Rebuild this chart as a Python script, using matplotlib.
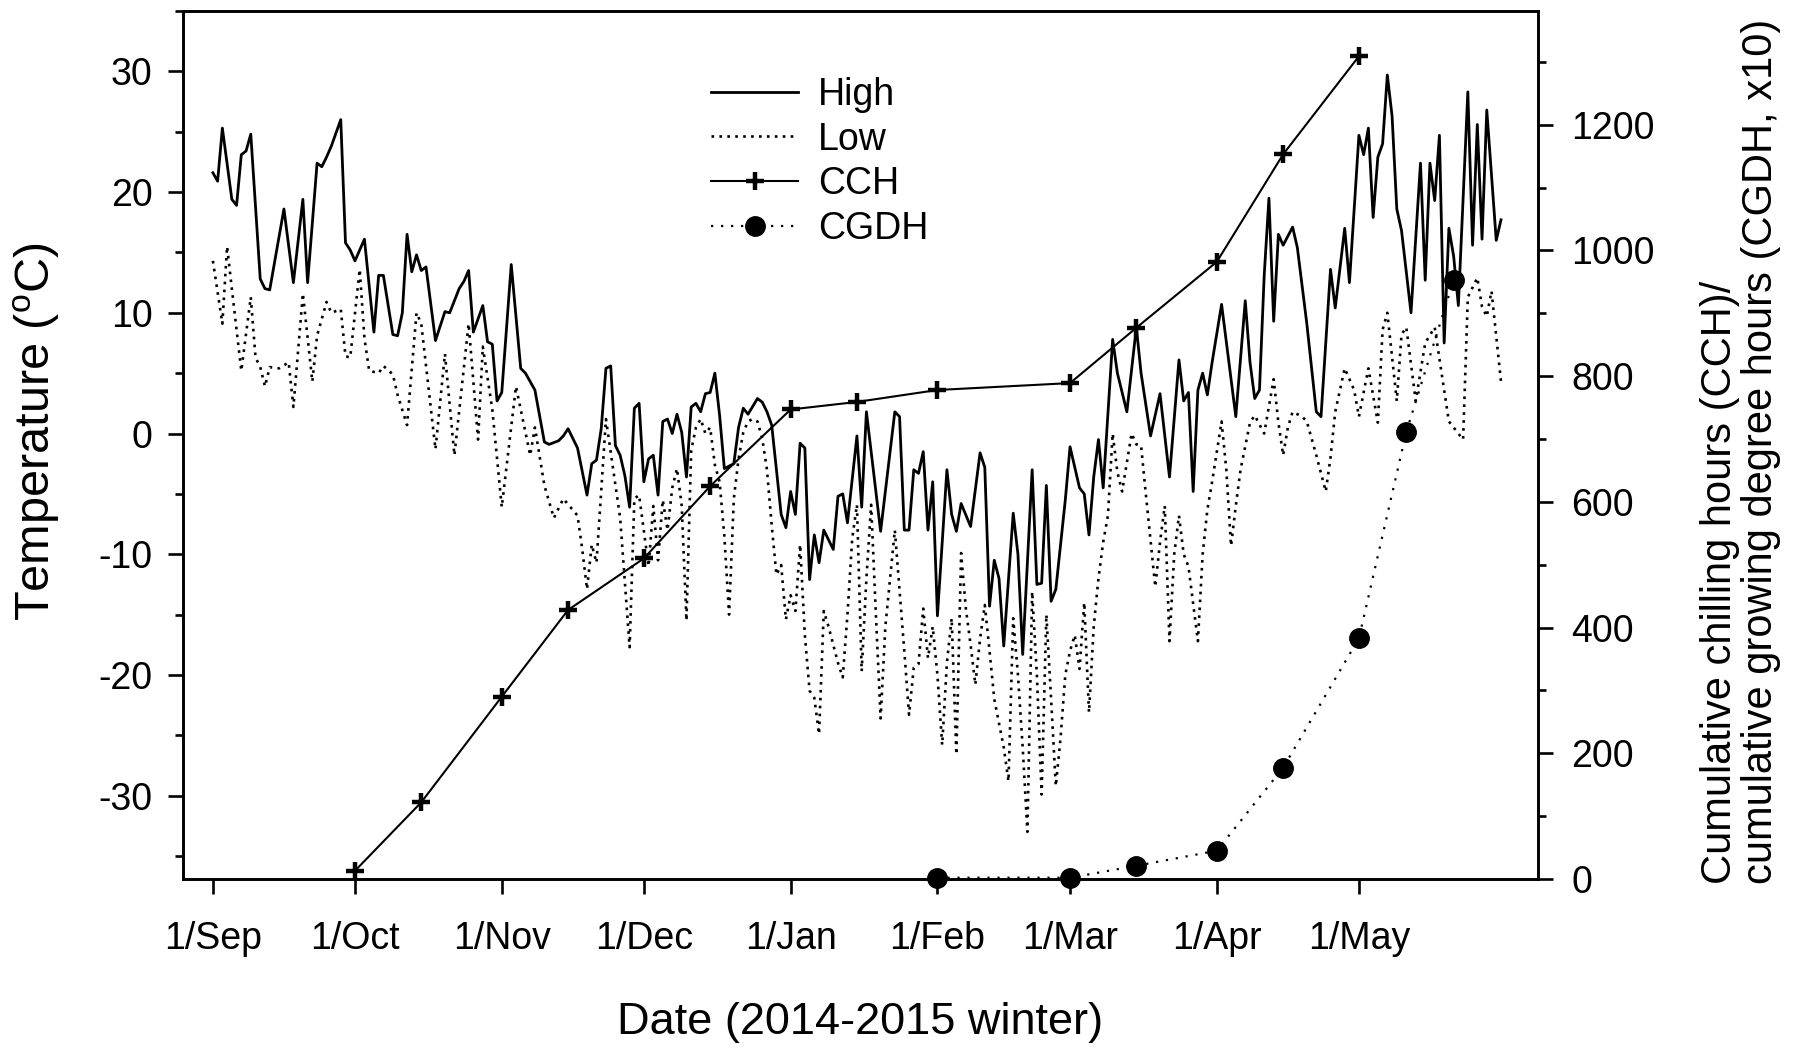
import numpy as np
import matplotlib
matplotlib.use("Agg")
import matplotlib.pyplot as plt
from matplotlib.ticker import MultipleLocator

plt.rcParams['font.family'] = ['Liberation Sans', 'DejaVu Sans']
plt.rcParams['mathtext.fontset'] = 'custom'
plt.rcParams['mathtext.rm'] = 'Liberation Sans'
plt.rcParams['axes.unicode_minus'] = False

# days counted from 1 Sep 2014
month_days = [0, 30, 61, 91, 122, 153, 181, 212, 242]
month_labels = ["1/Sep", "1/Oct", "1/Nov", "1/Dec", "1/Jan", "1/Feb", "1/Mar", "1/Apr", "1/May"]

# daily high temperature (read at the turning points of the line)
high_day = [0, 1, 2, 4, 5, 6, 7, 8, 10, 11, 12, 15, 17, 19, 20, 22, 23, 24, 25, 26,
            27, 28, 29, 30, 32, 34, 35, 36, 38, 39, 40, 41, 42, 43, 44, 45, 47, 49, 50, 52,
            53, 54, 55, 57, 58, 59, 60, 61, 63, 65, 66, 68, 70, 71, 73, 74, 75, 77, 79, 80,
            81, 82, 83, 84, 85, 86, 87, 88, 89, 90, 91, 92, 93, 94, 95, 96, 97, 98, 99, 100,
            101, 102, 103, 104, 105, 106, 107, 108, 110, 111, 112, 113, 115, 116, 117, 118, 120, 121, 122, 123,
            124, 125, 126, 127, 128, 129, 131, 132, 133, 134, 136, 137, 138, 141, 144, 145, 146, 147, 148, 149,
            150, 151, 152, 153, 155, 156, 157, 158, 160, 162, 163, 164, 165, 166, 167, 169, 170, 171, 173, 174,
            175, 176, 177, 178, 180, 181, 183, 184, 185, 186, 187, 188, 190, 191, 193, 195, 196, 198, 200, 202,
            204, 205, 206, 207, 208, 209, 210, 211, 213, 215, 216, 218, 219, 220, 221, 222, 223, 224, 225, 226,
            228, 229, 231, 233, 234, 236, 237, 239, 240, 242, 243, 244, 245, 246, 247, 248, 249, 250, 251, 253,
            255, 256, 257, 258, 259, 260, 261, 262, 263, 265, 266, 267, 268, 269, 271, 272]
high_temp = [21.6, 20.9, 25.3, 19.4, 18.9, 23.1, 23.4, 24.8, 12.8, 12.0, 11.9, 18.6, 12.5, 19.4, 12.5, 22.4, 22.1, 22.9, 23.8, 24.9,
             26.0, 15.8, 15.2, 14.3, 16.1, 8.4, 13.1, 13.1, 8.2, 8.1, 10.0, 16.5, 13.4, 14.8, 13.5, 13.8, 7.7, 10.1, 10.0, 12.0,
             12.6, 13.5, 8.4, 10.6, 7.6, 7.4, 2.7, 3.4, 14.0, 5.4, 5.0, 3.6, -0.7, -0.9, -0.6, -0.2, 0.4, -1.2, -5.1, -2.5,
             -2.2, 0.4, 5.4, 5.6, -1.0, -1.8, -3.5, -6.1, 2.1, 2.5, -4.0, -2.1, -1.8, -5.1, 1.0, 1.2, 0.0, 1.6, 0.1, -3.6,
             2.2, 2.5, 1.8, 3.3, 3.4, 5.0, 1.5, -2.9, -2.5, 0.5, 2.1, 1.6, 2.9, 2.6, 1.8, 0.7, -6.7, -7.8, -4.8, -6.7,
             -0.8, -1.2, -12.1, -8.4, -10.7, -8.0, -9.6, -5.2, -5.0, -7.4, -0.2, -6.1, 1.8, -8.1, 1.8, 1.4, -8.0, -8.0, -3.0, -3.3,
             -1.5, -8.0, -4.0, -15.1, -3.0, -6.7, -8.1, -5.8, -7.7, -1.6, -2.8, -14.3, -10.5, -12.0, -17.6, -6.6, -10.0, -18.3, -3.0, -12.5,
             -12.4, -4.3, -13.9, -12.9, -5.5, -1.1, -4.5, -5.0, -8.4, -3.6, -0.5, -4.5, 7.8, 5.0, 1.8, 8.8, 5.0, -0.2, 3.3, -3.6,
             6.1, 2.7, 3.4, -4.8, 3.6, 5.0, 3.2, 5.9, 10.7, 4.5, 1.4, 11.0, 5.9, 2.9, 3.6, 13.1, 19.5, 9.3, 16.5, 15.6,
             17.1, 15.4, 9.1, 1.8, 1.4, 13.6, 10.4, 17.0, 12.5, 24.7, 23.1, 25.3, 17.9, 22.9, 24.0, 29.7, 26.3, 18.6, 16.8, 10.0,
             22.4, 12.7, 22.4, 19.3, 24.7, 7.5, 17.0, 14.7, 10.6, 28.3, 15.6, 25.6, 16.1, 26.8, 16.0, 17.7]

# daily low temperature
low_day = [0, 2, 3, 4, 6, 8, 9, 10, 11, 12, 14, 16, 17, 19, 21, 22, 24, 25, 27, 28,
           29, 31, 32, 33, 35, 36, 38, 39, 41, 43, 44, 47, 49, 51, 54, 56, 57, 59, 61, 64,
           67, 68, 70, 72, 74, 77, 78, 79, 80, 81, 83, 86, 88, 89, 90, 92, 93, 94, 95, 96,
           97, 98, 99, 100, 101, 102, 103, 104, 105, 106, 107, 108, 109, 110, 111, 112, 113, 114, 115, 116,
           117, 118, 119, 120, 121, 122, 123, 124, 125, 126, 127, 128, 129, 130, 131, 132, 133, 134, 135, 136,
           137, 138, 139, 140, 141, 142, 143, 144, 145, 146, 147, 148, 149, 150, 151, 152, 153, 154, 155, 156,
           157, 158, 159, 160, 161, 162, 163, 164, 165, 166, 167, 168, 169, 170, 171, 172, 173, 174, 175, 176,
           177, 178, 179, 180, 181, 182, 183, 184, 185, 186, 187, 188, 189, 190, 191, 192, 194, 195, 196, 197,
           199, 200, 201, 202, 203, 204, 205, 206, 208, 209, 210, 211, 213, 214, 215, 216, 217, 219, 220, 222,
           224, 225, 226, 227, 228, 230, 231, 233, 235, 236, 237, 239, 241, 242, 244, 246, 247, 248, 250, 251,
           252, 254, 256, 258, 260, 261, 262, 264, 265, 267, 268, 269, 270, 272]
low_temp = [14.3, 9.1, 15.5, 12.0, 5.2, 11.3, 6.3, 5.5, 3.9, 5.5, 5.4, 5.9, 2.2, 11.6, 4.3, 8.1, 10.9, 10.0, 10.3, 6.4,
            6.3, 13.6, 7.9, 5.2, 5.0, 5.6, 4.9, 3.2, 0.7, 10.0, 9.1, -1.3, 6.6, -1.8, 9.1, -0.5, 7.2, 2.0, -6.1, 3.9,
            -1.8, 0.5, -4.3, -7.0, -5.4, -6.8, -9.6, -12.9, -9.2, -10.7, 1.2, -7.0, -17.7, -5.4, -5.1, -11.0, -6.0, -10.5, -5.5, -8.0,
            -4.5, -2.9, -6.0, -15.5, -1.4, 0.5, 1.2, 0.0, 0.5, -2.6, -4.0, -8.5, -15.0, -5.4, -2.1, 0.1, 1.0, 1.2, 1.0, -0.4,
            -3.0, -7.6, -11.7, -10.9, -15.4, -13.4, -14.7, -9.2, -16.7, -21.3, -21.9, -24.9, -14.7, -16.0, -17.5, -19.0, -20.2, -15.0, -8.7, -5.9,
            -19.7, -12.0, -5.9, -15.0, -23.6, -16.0, -12.0, -8.0, -13.0, -18.0, -23.3, -19.4, -19.1, -14.5, -18.6, -16.0, -20.0, -25.8, -19.0, -15.3,
            -26.6, -9.9, -14.5, -17.5, -20.8, -17.0, -14.2, -18.0, -22.0, -24.0, -26.0, -28.8, -15.3, -20.0, -26.0, -33.0, -13.1, -20.0, -29.9, -15.0,
            -22.0, -29.2, -25.2, -20.0, -18.0, -16.7, -19.5, -14.0, -23.1, -16.0, -12.0, -9.0, -6.8, 0.0, -3.2, -4.8, 0.0, -0.9, -1.0, -5.0,
            -12.7, -9.0, -6.0, -17.2, -10.0, -6.8, -10.0, -11.0, -17.2, -10.0, -6.3, -4.0, 1.0, -3.0, -9.3, -6.0, -3.0, 0.9, 1.5, 0.0,
            4.5, 0.9, -1.8, 0.5, 1.8, 1.4, 1.0, -1.8, -4.8, -2.0, 1.8, 5.4, 3.6, 1.4, 5.4, 0.9, 8.6, 10.0, 2.7, 8.2,
            8.8, 2.7, 7.5, 8.8, 3.6, 1.0, 0.5, -0.5, 11.3, 12.9, 10.5, 9.7, 11.8, 4.3]

# cumulative chilling hours
cch_day = [30, 44, 61, 75, 91, 105, 122, 136, 153, 181, 195, 212, 226, 242]
cch_val = [13, 122, 290, 428, 510, 625, 747, 759, 778, 789, 877, 982, 1153, 1309]

# cumulative growing degree hours (x10)
cgdh_day = [153, 181, 195, 212, 226, 242, 252, 262]
cgdh_val = [2, 2, 21, 45, 177, 383, 711, 953]

fig = plt.figure(figsize=(18, 10.58), dpi=100)
ax = fig.add_axes([0.1017, 0.1692, 0.7527, 0.8204])
ax2 = ax.twinx()

l_high, = ax.plot(high_day, high_temp, color="black", lw=2.0, label="High")
l_low, = ax.plot(low_day, low_temp, color="black", lw=1.9, linestyle=(0, (1, 2)), label="Low")
l_cch, = ax2.plot(cch_day, cch_val, color="black", lw=1.5, marker="+", markersize=13,
                  markeredgewidth=3.2, label="CCH")
l_cgdh, = ax2.plot(cgdh_day, cgdh_val, color="black", lw=1.6, linestyle=(0, (1, 3.5)), marker="o",
                   markersize=14, label="CGDH", clip_on=False, zorder=5)

ax.set_xlim(-6.3, 279.8)
ax.set_ylim(-36.9, 35.0)
ax2.set_ylim(0, 1381)

ax.set_xticks(month_days)
ax.set_xticklabels(month_labels)
ax.yaxis.set_major_locator(MultipleLocator(10))
ax.yaxis.set_minor_locator(MultipleLocator(5))
ax2.yaxis.set_major_locator(MultipleLocator(200))
ax2.yaxis.set_minor_locator(MultipleLocator(100))

for a in (ax, ax2):
    for s in a.spines.values():
        s.set_linewidth(1.9)
    a.tick_params(which="major", direction="out", length=11, width=1.9, labelsize=27, pad=11)
    a.tick_params(which="minor", direction="out", length=6, width=1.9)
ax.tick_params(axis="x", pad=19)
ax2.tick_params(axis="y", pad=13)

fig.text(0.478, 0.023, "Date (2014-2015 winter)", ha="center", va="baseline", fontsize=32.5)
fig.text(0.0205, 0.592, r"Temperature ($\mathrm{^oC}$)", rotation=90, ha="center", va="center", fontsize=35)
fig.text(0.967, 0.1645, "Cumulative chilling hours (CCH)/\ncumulative growing degree hours (CGDH, x10)",
         rotation=90, ha="center", va="bottom", multialignment="left", fontsize=30, linespacing=1.05)

ax.legend(handles=[l_high, l_low, l_cch, l_cgdh], loc="upper left", bbox_to_anchor=(0.390, 0.924),
          frameon=False, fontsize=27, handlelength=2.3, handletextpad=0.55, labelspacing=0.23,
          borderpad=0, borderaxespad=0)

fig.savefig("out.png", dpi=100)
